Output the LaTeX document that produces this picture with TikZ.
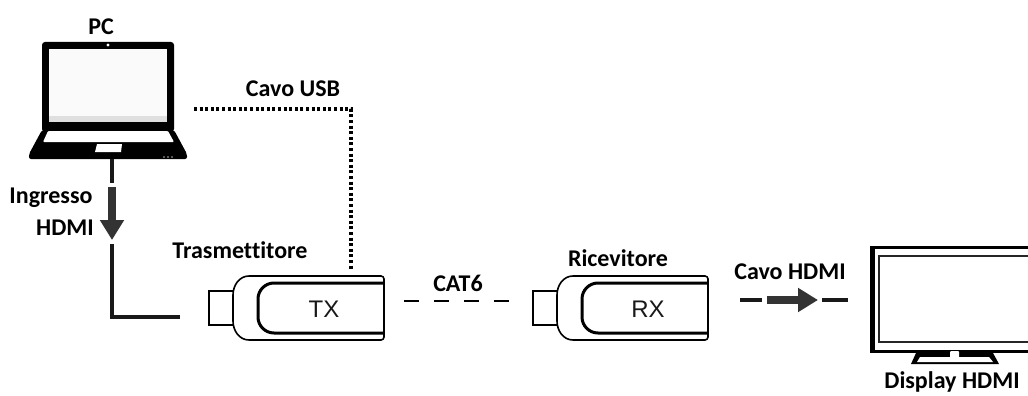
\documentclass[tikz,border=0pt]{standalone}
\usepackage{fontspec}
\setmainfont[Ligatures=CommonOff]{Carlito}
\newfontfamily\plainfont{Liberation Sans}
\usetikzlibrary{arrows.meta}
\definecolor{arrowgrey}{HTML}{333333}
\tikzset{
	lbl/.style={font=\fontsize{24}{26}\selectfont\bfseries,align=center,inner sep=0pt},
	wire/.style={line width=3.2pt,draw=black!90},
	block/.style={draw=arrowgrey,line width=8.5pt,-{Triangle[width=23pt,length=20pt]}},
	dongle/.pic={
		\draw[line width=1.6pt,fill=white](-91,-18)--(-115,-18)--(-115,16)--(-91,16);
		\draw[line width=1.6pt,fill=white](-75,-33)--(57,-33)to[out=0,in=90](60,-30)--(60,28)to[out=-90,in=0](57,31)
			--(-75,31)to[out=180,in=-90](-91,12)--(-91,-14)to[out=90,in=180](-75,-33)--cycle;
		\draw[line width=3pt,rounded corners=16pt](60,-26)--(-66,-26)--(-66,24)--(60,24);
		\node(-name)at(0,0)[font=\plainfont\fontsize{24}{24}\selectfont,text=black!90,inner sep=0pt]{#1};
	}
}
\begin{document}
\begin{tikzpicture}[x=1pt,y=-1pt]
	\useasboundingbox[fill=white](0,0)rectangle(1028,396);
	\fill[rounded corners=3pt](42,42)rectangle(174,132);
	\fill[rounded corners=2pt](42,130)--(174,130)--(187,154)--(187,159)--(29,159)--(29,154)--cycle;
	\fill[gray!4](49,49)rectangle(167,116);
	\fill[gray!25](49,116)rectangle(167,122);
	\fill[white](108,45)circle(1.7);
	\fill[white,rounded corners=1pt](48,131)--(168,131)--(174,142)--(43,142)--cycle;
	\fill[white](97,144)--(122,144)--(121,152)--(95,152)--cycle;
	\foreach \dotx in {164,168,172}
		\fill[gray!60](\dotx,157)circle(0.8);
	\coordinate(pcbase)at(112,159);
	\coordinate(pcstub)at(112,183);
	\coordinate(arrowa)at(112,187);
	\coordinate(arrowb)at(112,240);
	\coordinate(wirea)at(112,244);
	\coordinate(wirec)at(112,317);
	\coordinate(wireb)at(180,317);
	\coordinate(usba)at(194,109);
	\coordinate(usbc)at(351,109);
	\coordinate(usbb)at(351,271);
	\coordinate(cata)at(404,301);
	\coordinate(catb)at(510,301);
	\coordinate(hdmia)at(740,300);
	\coordinate(hdmib)at(762,300);
	\coordinate(hdmic)at(767,300);
	\coordinate(hdmid)at(818,300);
	\coordinate(hdmie)at(822,300);
	\coordinate(hdmif)at(848,300);
	\pic(tx)at(324,309){dongle=TX};
	\pic(rx)at(648,309){dongle=RX};
	\fill(870,246)rectangle(1028,353);
	\fill[white](875,249)rectangle(1028,350);
	\fill[black!85](878,255)rectangle(1028,343);
	\fill[white](880,257)rectangle(1028,341);
	\fill(916,353)--(993,353)--(999,364)--(911,364)--cycle;
	\fill[white](920,357)--(989,357)--(993,362)--(917,362)--cycle;
	\fill[white,rounded corners=1pt](950,351)rectangle(959,358);
	\node[lbl](pc)at(101,27){PC};
	\node[lbl](usb)at(293,89){Cavo USB};
	\node[lbl](ingresso)at(51,198){Ingresso};
	\node[lbl](hdmi)at(65,228){HDMI};
	\node[lbl](trasm)at(240,250){Trasmettitore};
	\node[lbl](cat)at(458,283){CAT6};
	\node[lbl](ricev)at(618,258){Ricevitore};
	\node[lbl](cavo)at(790,272){Cavo HDMI};
	\node[lbl](display)at(952,382){Display HDMI};
	\draw[wire](pcbase)--(pcstub);
	\draw[block](arrowa)--(arrowb);
	\draw[wire](wirea)--(wirec)--(wireb);
	\draw[line width=3.6pt,dash pattern=on 3pt off 2.6pt](usba)--(usbc)--(usbb);
	\draw[line width=1.8pt,dash pattern=on 15pt off 15pt](cata)--(catb);
	\draw[wire](hdmia)--(hdmib);
	\draw[block](hdmic)--(hdmid);
	\draw[wire](hdmie)--(hdmif);
\end{tikzpicture}
\end{document}
